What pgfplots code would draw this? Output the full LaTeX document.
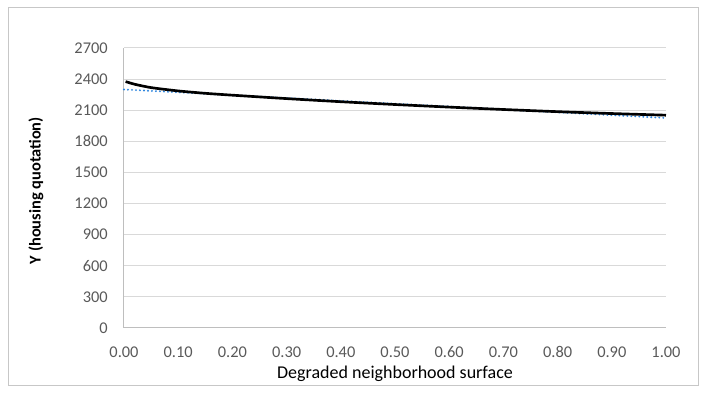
\documentclass[border=0pt]{standalone}
\usepackage{pgfplots}
\pgfplotsset{compat=1.18}
\usepackage{fontspec}
\setmainfont{Carlito}
\definecolor{gridc}{HTML}{D9D9D9}
\definecolor{tickc}{HTML}{595959}
\definecolor{trend}{HTML}{2E86DE}
\begin{document}
\begin{tikzpicture}
\useasboundingbox (-93pt,-50.25pt) rectangle (438pt,246pt);
\draw[color=gridc!80!gray, line width=0.75pt] (-86.25pt,-43.5pt) rectangle (430.5pt,240pt);
\begin{axis}[
  at={(0,0)}, anchor=south west,
  scale only axis, width=406.5pt, height=210pt,
  xmin=0, xmax=1, ymin=0, ymax=2700,
  xtick={0,0.1,...,1.0}, ytick={0,300,...,2700},
  xticklabel style={/pgf/number format/fixed, /pgf/number format/fixed zerofill, /pgf/number format/precision=2, anchor=center, yshift=-18pt},
  yticklabel style={/pgf/number format/fixed, /pgf/number format/1000 sep={}, anchor=east, xshift=-12pt},
  /pgf/number format/assume math mode=true,
  tick label style={font=\fontsize{12.3}{14}\selectfont, color=tickc, inner sep=0pt},
  major tick length=0pt,
  ymajorgrids, grid style={color=gridc, line width=0.75pt},
  axis x line*=bottom, axis y line*=left,
  axis line style={color=gridc!70!gray, line width=0.75pt, -},
  clip=false,
]
\addplot[color=trend, line width=1.6pt, dash pattern=on 0pt off 3pt, line cap=round] coordinates {(0,2300) (1,2025)};
\addplot[color=black, line width=2pt, smooth, tension=0.4] coordinates {
(0.003,2376) (0.02,2350) (0.05,2318) (0.1,2286) (0.15,2263) (0.2,2245)
(0.3,2212) (0.4,2182) (0.5,2155) (0.6,2130) (0.7,2107) (0.8,2086)
(0.9,2068) (1.0,2052)};
\end{axis}
\node[font=\fontsize{13.5}{16}\selectfont, inner sep=0pt] at (203.25pt,-34pt) {Degraded neighborhood surface};
\node[font=\fontsize{12.3}{15}\selectfont\bfseries, inner sep=0pt, rotate=90] at (-66pt,103pt) {Y (housing quotation)};
\end{tikzpicture}
\end{document}
